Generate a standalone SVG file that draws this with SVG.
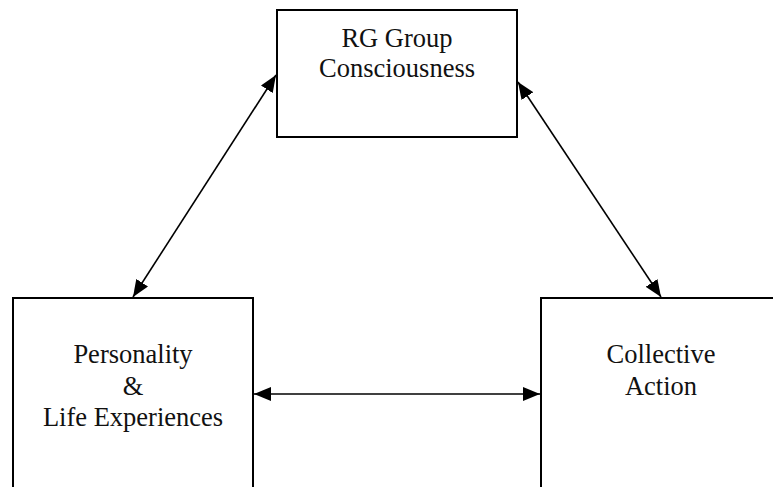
<svg xmlns="http://www.w3.org/2000/svg" width="773" height="487" viewBox="0 0 773 487">
<style>
.box{fill:#fff;stroke:#000;stroke-width:2}
.lbl{font-size:26.5px;fill:#111;text-anchor:middle}
.con{stroke:#000;stroke-width:1.6;fill:none;marker-start:url(#ah);marker-end:url(#ah)}
</style>
<defs>
<marker id="ah" markerUnits="userSpaceOnUse" markerWidth="17" markerHeight="14" refX="17" refY="7" orient="auto-start-reverse">
<path d="M0,0 L17,7 L0,14 z" fill="#000"/>
</marker>
</defs>
<rect width="773" height="487" fill="#fff"/>
<g font-family="'Liberation Serif', 'Times New Roman', Tinos, 'DejaVu Serif', serif">
<g id="node-rg">
<rect class="box" x="277" y="10" width="240" height="127"/>
<text class="lbl" x="397" y="47">RG Group</text>
<text class="lbl" x="397" y="77">Consciousness</text>
</g>
<g id="node-personality">
<rect class="box" x="13" y="298" width="240" height="200"/>
<text class="lbl" x="133" y="363">Personality</text>
<text class="lbl" x="133" y="395">&amp;</text>
<text class="lbl" x="133" y="426">Life Experiences</text>
</g>
<g id="node-action">
<rect class="box" x="541" y="298" width="240" height="200"/>
<text class="lbl" x="661" y="363">Collective</text>
<text class="lbl" x="661" y="395">Action</text>
</g>
</g>
<g id="connectors">
<line class="con" x1="133" y1="297" x2="276" y2="75"/>
<line class="con" x1="518" y1="82" x2="661" y2="297"/>
<line class="con" x1="254" y1="394" x2="540" y2="394"/>
</g>
</svg>
